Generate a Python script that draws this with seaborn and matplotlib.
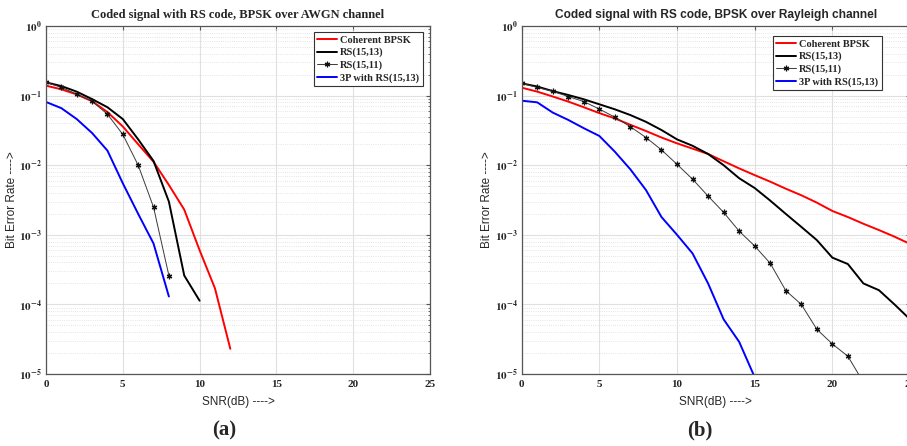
import numpy as np
import pandas as pd
import matplotlib
matplotlib.use("Agg")
import matplotlib.pyplot as plt
import matplotlib.ticker as mticker
import seaborn as sns

# ---------------- data ----------------
# (a) AWGN channel
awgn_snr_bpsk = [0, 1, 2, 3, 4, 5, 6, 7, 8, 9, 10, 11, 12]
awgn_bpsk = [0.139, 0.123, 0.104, 0.083, 0.058, 0.036, 0.020, 0.0112, 0.0052, 0.0023, 6.0e-4, 1.7e-4, 2.3e-5]
awgn_snr_rs1513 = [0, 1, 2, 3, 4, 5, 6, 7, 8, 9, 10]
awgn_rs1513 = [0.155, 0.137, 0.114, 0.089, 0.068, 0.046, 0.0235, 0.0115, 0.0030, 2.6e-4, 1.13e-4]
awgn_snr_rs1511 = [0, 1, 2, 3, 4, 5, 6, 7, 8]
awgn_rs1511 = [0.155, 0.131, 0.105, 0.083, 0.054, 0.0277, 0.0100, 0.0025, 2.6e-4]
awgn_snr_3p = [0, 1, 2, 3, 4, 5, 6, 7, 8]
awgn_3p = [0.081, 0.066, 0.046, 0.029, 0.0162, 0.0055, 0.0020, 7.5e-4, 1.3e-4]

# (b) Rayleigh channel
ray_snr = list(range(0, 26))
ray_bpsk = [0.130, 0.114, 0.097, 0.082, 0.068, 0.056, 0.047, 0.038, 0.031, 0.025,
            0.0206, 0.0173, 0.0145, 0.0114, 0.0090, 0.0072, 0.0058, 0.0046, 0.0037, 0.0029,
            0.0022, 0.0018, 0.00144, 0.00117, 9.4e-4, 7.4e-4]
ray_rs1513 = [0.150, 0.135, 0.116, 0.102, 0.0885, 0.075, 0.0635, 0.0525, 0.042, 0.032,
              0.0235, 0.019, 0.0145, 0.010, 0.0065, 0.0047, 0.0031, 0.0020, 0.0013, 8.4e-4,
              4.7e-4, 3.8e-4, 2.0e-4, 1.6e-4, 1.0e-4, 6.1e-5]
ray_snr_rs1511 = list(range(0, 23))
ray_rs1511 = [0.150, 0.131, 0.115, 0.097, 0.082, 0.064, 0.049, 0.0357, 0.025, 0.0166,
              0.0103, 0.0063, 0.0036, 0.0021, 0.00113, 6.9e-4, 3.9e-4, 1.58e-4, 1.0e-4, 4.4e-5,
              2.7e-5, 1.8e-5, 7.6e-6]
ray_snr_3p = list(range(0, 16))
ray_3p = [0.0845, 0.080, 0.057, 0.0447, 0.034, 0.0263, 0.0156, 0.0087, 0.0044, 0.0018,
          0.0010, 5.4e-4, 2.0e-4, 6.1e-5, 2.9e-5, 9.0e-6]

labels = ["Coherent BPSK", "RS(15,13)", "RS(15,11)", "3P with RS(15,13)"]
titles = ["Coded signal with RS code, BPSK over AWGN channel",
          "Coded signal with RS code, BPSK over Rayleigh channel"]
panel_tags = ["(a)", "(b)"]
xticks = [0, 5, 10, 15, 20, 25]

# ---------------- style ----------------
sns.set_style("white")
plt.rcParams["mathtext.fontset"] = "stix"
plt.rcParams["font.family"] = ["DejaVu Sans"]

fig = plt.figure(figsize=(9.07, 4.46), dpi=100)
axA = fig.add_axes([46 / 907, 1 - 374 / 446, (430 - 46) / 907, 348 / 446])
axB = fig.add_axes([521.7 / 907, 1 - 374 / 446, (910 - 521.7) / 907, 348 / 446])

serif = "Liberation Serif"
styles = [("#ff0000", 1.4, None), ("black", 1.4, None), ("#3a3a3a", 0.7, (6, 2, 0)), ("#0000ff", 1.4, None)]


def draw(ax, series):
    for (x, y, lab), (col, lw, mk) in zip(series, styles):
        df = pd.DataFrame({"SNR": x, "BER": y})
        kw = dict(marker=mk, markersize=4, markeredgewidth=0.9, markeredgecolor="#111111") if mk else {}
        sns.lineplot(data=df, x="SNR", y="BER", ax=ax, color=col, linewidth=lw,
                     label=lab, legend=True, **kw)


draw(axA, [(awgn_snr_bpsk, awgn_bpsk, labels[0]), (awgn_snr_rs1513, awgn_rs1513, labels[1]),
           (awgn_snr_rs1511, awgn_rs1511, labels[2]), (awgn_snr_3p, awgn_3p, labels[3])])
draw(axB, [(ray_snr, ray_bpsk, labels[0]), (ray_snr, ray_rs1513, labels[1]),
           (ray_snr_rs1511, ray_rs1511, labels[2]), (ray_snr_3p, ray_3p, labels[3])])

for i, ax in enumerate([axA, axB]):
    ax.set_yscale("log")
    ax.set_xlim(0, 25)
    ax.set_ylim(1e-5, 1)
    ax.set_xticks(xticks)
    ax.set_xticklabels([str(t) for t in xticks], fontfamily=serif, fontweight="bold", fontsize=7.5)
    ax.yaxis.set_major_locator(mticker.LogLocator(base=10, numticks=10))
    ax.yaxis.set_minor_locator(mticker.LogLocator(base=10, subs=np.arange(2, 10), numticks=20))
    ax.yaxis.set_major_formatter(mticker.FuncFormatter(
        lambda v, p: r"$\mathbf{10^{%d}}$" % int(round(np.log10(v)))))
    ax.yaxis.set_minor_formatter(mticker.NullFormatter())
    ax.tick_params(axis="both", which="both", direction="in", labelsize=8, pad=4,
                   top=True, right=True, color="#555555")
    ax.tick_params(axis="y", which="major", pad=3)
    ax.tick_params(axis="both", which="major", length=3)
    ax.tick_params(axis="both", which="minor", length=1.5)
    ax.grid(which="major", color="#e0e0e0", linewidth=0.8, linestyle="-")
    ax.yaxis.grid(which="minor", color="#dcdcdc", linewidth=0.6, linestyle=":")
    ax.xaxis.grid(which="minor", visible=False)
    ax.set_axisbelow(True)
    for s in ax.spines.values():
        s.set_color("#555555")
        s.set_linewidth(0.9)
    ax.set_xlabel("SNR(dB) ---->", fontsize=8.5, fontfamily="Liberation Sans", labelpad=5)
    ax.set_ylabel("Bit Error Rate ---->", fontsize=8.5, fontfamily="Liberation Sans", labelpad=1)

axA.set_title(titles[0], fontfamily=serif, fontweight="bold", fontsize=9, pad=6)
axB.set_title(titles[1], fontfamily="Liberation Sans", fontweight="bold", fontsize=8.6, pad=6)

legkw = dict(loc="upper right", bbox_transform=fig.transFigure,
             prop={"family": serif, "weight": "bold", "size": 7.5},
             frameon=True, fancybox=False, edgecolor="#333333", framealpha=1,
             handlelength=1.9, handletextpad=0.3, borderpad=0.35, labelspacing=0.28,
             borderaxespad=0)
legA = axA.legend(bbox_to_anchor=(423 / 907, 1 - 32 / 446), **legkw)
legB = axB.legend(bbox_to_anchor=(882 / 907, 1 - 36 / 446), **legkw)
for leg in (legA, legB):
    leg.get_frame().set_linewidth(0.8)

fig.text(224 / 907, 1 - 430 / 446, panel_tags[0], ha="center", va="center",
         fontfamily=serif, fontweight="bold", fontsize=15)
fig.text(700 / 907, 1 - 430 / 446, panel_tags[1], ha="center", va="center",
         fontfamily=serif, fontweight="bold", fontsize=15)

fig.savefig("out.png", dpi=100)
